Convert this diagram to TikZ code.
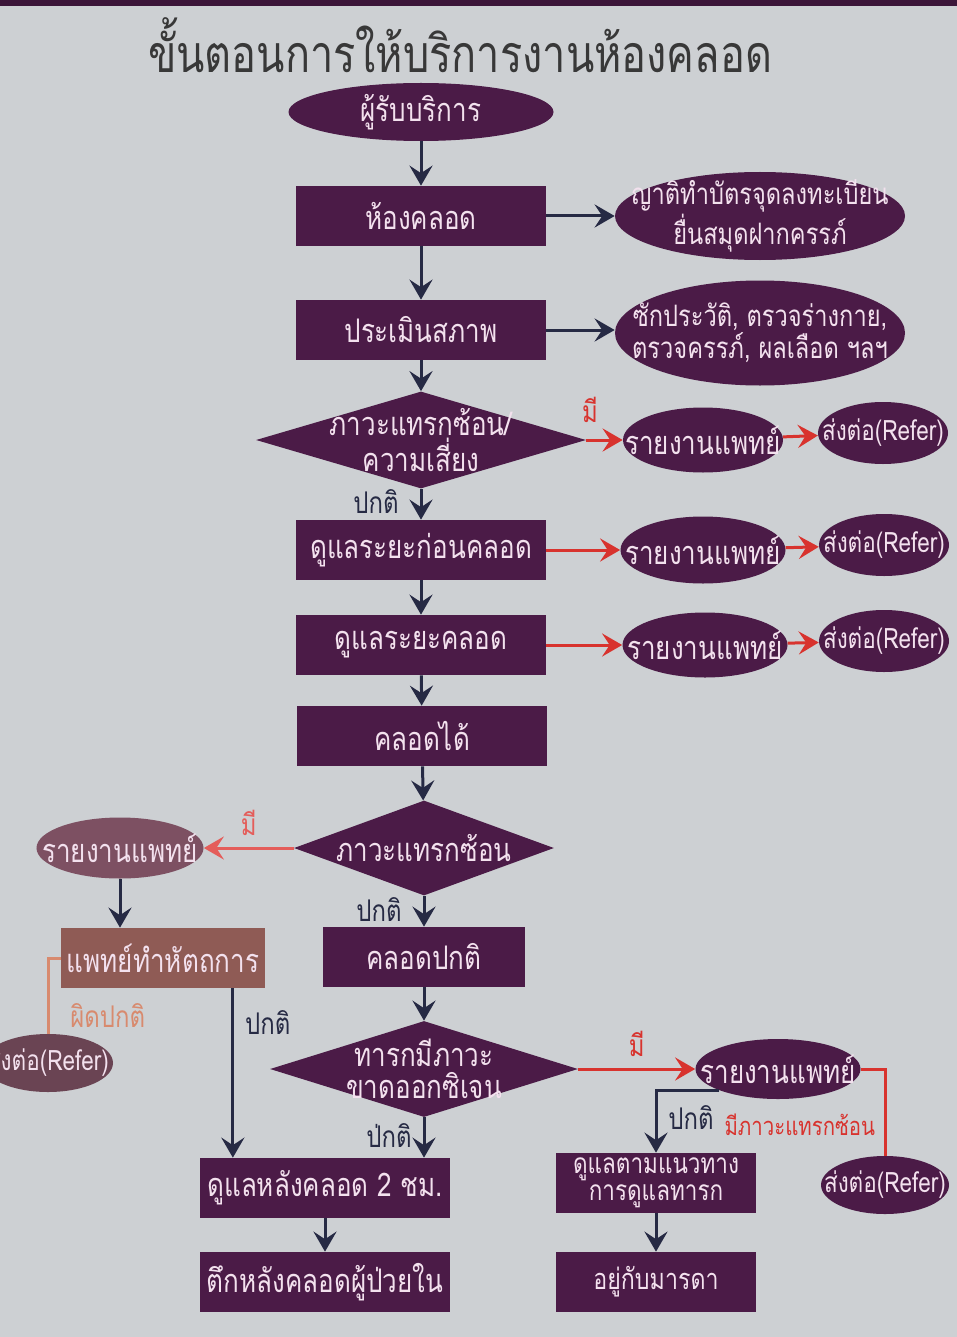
\documentclass[tikz,border=0pt]{standalone}
\usepackage{fontspec}
\newfontfamily\thaifont[Script=Thai, FakeStretch=0.8]{Loma}
\usetikzlibrary{positioning,arrows.meta,shapes.geometric,calc}
\definecolor{plum}{HTML}{4B1B47}
\definecolor{board}{HTML}{CDD0D3}
\definecolor{ink}{HTML}{262A44}
\definecolor{redline}{HTML}{D8332E}
\definecolor{pale}{HTML}{F3E1EE}
\definecolor{mauve}{HTML}{7D5062}
\definecolor{rust}{HTML}{8F5B55}
\definecolor{salmon}{HTML}{D88A6E}
\tikzset{
  base/.style={fill=plum, text=pale, inner sep=0pt, align=center,
    font=\thaifont\fontsize{18.5}{19}\selectfont},
  box/.style={base, rectangle, minimum width=50mm, minimum height=12mm},
  oval/.style={base, ellipse},
  decision/.style={diamond, fill=plum, inner sep=0pt},
  inside/.style={text=pale, align=center, font=\thaifont\fontsize{18.5}{18.5}\selectfont},
  small/.style={font=\thaifont\fontsize{16}{17}\selectfont},
  twoline/.style={font=\thaifont\fontsize{16.8}{18}\selectfont},
  flow/.style={draw=ink, line width=0.6mm, -{Stealth[length=4mm,width=4.6mm,inset=1.5mm]}},
  redflow/.style={draw=redline, line width=0.6mm, -{Stealth[length=4mm,width=4.6mm,inset=1.5mm]}},
  tag/.style={text=ink, font=\thaifont\fontsize{17}{20}\selectfont},
  redtag/.style={tag, text=redline}
}

\begin{document}
\begin{tikzpicture}[x=0.2mm, y=-0.2mm]
    \fill[board] (0,0) rectangle (957,1337);
    \fill[plum!80!black] (0,0) rectangle (957,6);
    \useasboundingbox (0,0) rectangle (957,1337);
    \clip (0,0) rectangle (957,1337);

    \node[text=black!78, font=\thaifont\fontsize{29.5}{34}\selectfont] (title) at (460,45) {ขั้นตอนการให้บริการงานห้องคลอด};

    % main column
    \node[oval, minimum width=53mm, minimum height=11.6mm] (client) at (421,112) {ผู้รับบริการ};
    \node[box] (ward) at (421,216) {ห้องคลอด};
    \node[box] (assess) at (421,330) {ประเมินสภาพ};
    \node[decision, minimum width=66mm, minimum height=19.4mm,
      label={[inside]center:{ภาวะแทรกซ้อน/\\ความเสี่ยง}}] (risk) at (421,440) {};
    \node[box] (antenatal) at (421,550) {ดูแลระยะก่อนคลอด};
    \node[box] (labour) at (421,645) {ดูแลระยะคลอด};
    \node[box] (born) at (422,736) {คลอดได้};
    \node[decision, minimum width=52mm, minimum height=19mm,
      label={[inside]center:{ภาวะแทรกซ้อน}}] (compl) at (424,848) {};
    \node[box, minimum width=40.4mm] (normal) at (424,957) {คลอดปกติ};
    \node[decision, minimum width=61.6mm, minimum height=19.2mm,
      label={[inside]center:{ทารกมีภาวะ\\ขาดออกซิเจน}}] (hypox) at (424,1069) {};
    \node[box] (post) at (325,1188) {ดูแลหลังคลอด 2 ชม.};
    \node[box] (ward2) at (325,1282) {ตึกหลังคลอดผู้ป่วยใน};

    % right side
    \node[oval, minimum width=58mm, minimum height=17.6mm,
      label={[inside,twoline]center:{ญาติทำบัตรจุดลงทะเบียน\\ยื่นสมุดฝากครรภ์}}] (register) at (760,216) {};
    \node[oval, minimum width=58mm, minimum height=21mm,
      label={[inside,twoline]center:{ซักประวัติ, ตรวจร่างกาย,\\ตรวจครรภ์, ผลเลือด ฯลฯ}}] (history) at (760,333) {};

    \node[oval, minimum width=32mm, minimum height=13mm,
      label={[inside]center:{รายงานแพทย์}}] (rep1) at (703,440) {};
    \node[oval, minimum width=26mm, minimum height=12.4mm,
      label={[inside,small]center:{ส่งต่อ(Refer)}}] (ref1) at (883,433) {};
    \node[oval, minimum width=33mm, minimum height=13.4mm,
      label={[inside]center:{รายงานแพทย์}}] (rep2) at (703,550) {};
    \node[oval, minimum width=26mm, minimum height=12.4mm,
      label={[inside,small]center:{ส่งต่อ(Refer)}}] (ref2) at (884,545) {};
    \node[oval, minimum width=33mm, minimum height=13mm,
      label={[inside]center:{รายงานแพทย์}}] (rep3) at (705,645) {};
    \node[oval, minimum width=26mm, minimum height=12.4mm,
      label={[inside,small]center:{ส่งต่อ(Refer)}}] (ref3) at (884,641) {};

    % left branch
    \node[oval, fill=mauve, minimum width=33.4mm, minimum height=12.2mm,
      label={[inside]center:{รายงานแพทย์}}] (rep4) at (120,848) {};
    \node[box, fill=rust, minimum width=40.6mm] (surgery) at (163,958) {แพทย์ทำหัตถการ};
    \node[oval, fill=mauve!85!black, minimum width=26mm, minimum height=11.6mm,
      label={[inside,small]center:{ส่งต่อ(Refer)}}] (ref4) at (48,1063) {};

    % baby branch
    \node[oval, minimum width=33mm, minimum height=12mm,
      label={[inside]center:{รายงานแพทย์}}] (rep5) at (778,1069) {};
    \node[oval, minimum width=25.6mm, minimum height=11.6mm,
      label={[inside,small]center:{ส่งต่อ(Refer)}}] (ref5) at (885,1185) {};
    \node[box, minimum width=40mm, font=\thaifont\fontsize{16}{15.5}\selectfont] (guide) at (656,1183) {ดูแลตามแนวทาง\\การดูแลทารก};
    \node[box, minimum width=40mm, font=\thaifont\fontsize{16.5}{17}\selectfont] (mother) at (656,1282) {อยู่กับมารดา};

    % connectors
    \draw[flow] (client) -- (ward);
    \draw[flow] (ward) -- (assess);
    \draw[flow] (assess) -- (risk);
    \draw[flow] (ward.east) -- (register.west);
    \draw[flow] (assess.east) -- (assess.east -| history.west);
    \draw[redflow] (risk.east) -- node[redtag, pos=0.1, above=2mm] {มี} (rep1.west);
    \draw[redflow] (rep1) -- (ref1);
    \draw[flow] (risk) -- node[tag, pos=0.4, left=3mm] {ปกติ} (antenatal);
    \draw[redflow] (antenatal.east) -- (rep2.west);
    \draw[redflow] (rep2) -- (ref2);
    \draw[flow] (antenatal) -- (labour);
    \draw[redflow] (labour.east) -- (rep3.west);
    \draw[redflow] (rep3) -- (ref3);
    \draw[flow] (labour) -- (born);
    \draw[flow] (born) -- (compl);

    \draw[redflow, draw=redline!70!pink] (compl.west) -- node[redtag, text=redline!70!pink, above=1mm] {มี} (rep4.east);
    \draw[flow] (rep4.south) -- (rep4.south |- surgery.north);
    \draw[draw=salmon, line width=0.6mm] (surgery.west) -| node[tag, text=salmon, pos=0.88, right=3mm] {ผิดปกติ} (ref4.north);
    \draw[flow] (surgery.south east) ++(-32,0) coordinate (cut) -- node[tag, pos=0.2, right=1mm] {ปกติ} (cut |- post.north);

    \draw[flow] (compl) -- node[tag, pos=0.45, left=3mm] {ปกติ} (normal);
    \draw[flow] (normal) -- (hypox);
    \draw[redflow] (hypox.east) -- node[redtag, pos=0.5, above=1mm] {มี} (rep5.west);
    \draw[flow] (hypox.south) -- node[tag, pos=0.45, left=1mm] {ป่กติ} (hypox.south |- post.north);
    \draw[draw=redline, line width=0.6mm] (rep5.east) -| node[redtag, font=\thaifont\fontsize{14.5}{17}\selectfont, pos=0.82, left=0.5mm] {มีภาวะแทรกซ้อน} (ref5.north);
    \draw[flow] (rep5.south west) -| node[tag, pos=0.72, right=1mm] {ปกติ} (guide.north);
    \draw[flow] (post) -- (ward2);
    \draw[flow] (guide) -- (mother);
\end{tikzpicture}
\end{document}
